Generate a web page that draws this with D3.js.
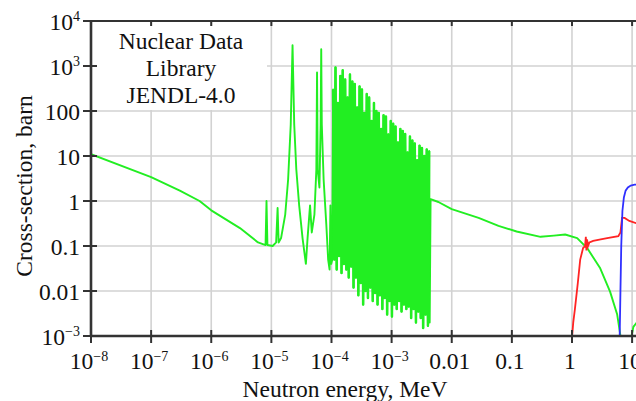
<!DOCTYPE html>
<html>
<head>
<meta charset="utf-8">
<script src="https://cdn.jsdelivr.net/npm/d3@7"></script>
<style>
  body { margin: 0; background: #fff; }
  svg { display: block; }
  text { font-family: "Liberation Serif", "Times New Roman", serif; fill: #111; }
</style>
</head>
<body>
<svg id="chart" width="636" height="401"></svg>
<script>
// tick values and labels (base, superscript)
const xTicks = [1e-8, 1e-7, 1e-6, 1e-5, 1e-4, 1e-3, 0.01, 0.1, 1, 10];
const xTickLabels = [["10","−8"],["10","−7"],["10","−6"],["10","−5"],["10","−4"],["10","−3"],["0.01",""],["0.1",""],["1",""],["10",""]];
const yTicks = [1e4, 1e3, 100, 10, 1, 0.1, 0.01, 1e-3];
const yTickLabels = [["10","4"],["10","3"],["100",""],["10",""],["1",""],["0.1",""],["0.01",""],["10","−3"]];
const boxLines = ["Nuclear Data", "Library", "JENDL-4.0"];

// green: thermal + low resolved resonances (MeV, barn)
const greenLowE = [1e-8, 1e-7, 3e-7, 6.4e-7, 1e-6, 3e-6, 6e-6, 8.0e-6, 8.3e-6, 8.6e-6, 1.05e-5, 1.2e-5, 1.27e-5, 1.32e-5,
  1.45e-5, 1.7e-5, 1.9e-5, 2.1e-5, 2.25e-5, 2.4e-5, 2.6e-5, 2.9e-5, 3.3e-5, 3.75e-5, 4.0e-5, 4.4e-5, 4.7e-5, 5.2e-5,
  5.6e-5, 5.75e-5, 5.9e-5, 6.3e-5, 6.6e-5, 6.75e-5, 6.9e-5, 7.4e-5, 8.2e-5, 8.8e-5, 9.3e-5, 9.6e-5, 9.9e-5, 1.03e-4];
const greenLowXS = [11, 3.4, 1.7, 1.0, 0.62, 0.25, 0.12, 0.105, 1.0, 0.105, 0.1, 0.12, 0.7, 0.12,
  0.15, 0.5, 3, 50, 2900, 50, 5, 0.8, 0.15, 0.04, 0.15, 0.8, 0.2, 0.5,
  5, 720, 5, 2, 50, 2350, 50, 3, 0.3, 0.05, 0.03, 0.8, 0.04, 0.05];

// green: dense resonance forest, alternating peak / valley
const forestE = [1.064e-4, 1.114e-4, 1.166e-4, 1.221e-4, 1.279e-4, 1.339e-4, 1.403e-4, 1.469e-4, 1.538e-4, 1.610e-4,
  1.687e-4, 1.766e-4, 1.849e-4, 1.936e-4, 2.028e-4, 2.123e-4, 2.223e-4, 2.327e-4, 2.437e-4, 2.552e-4,
  2.672e-4, 2.797e-4, 2.929e-4, 3.067e-4, 3.211e-4, 3.362e-4, 3.520e-4, 3.685e-4, 3.859e-4, 4.040e-4,
  4.230e-4, 4.429e-4, 4.638e-4, 4.856e-4, 5.084e-4, 5.323e-4, 5.574e-4, 5.836e-4, 6.110e-4, 6.398e-4,
  6.698e-4, 7.013e-4, 7.343e-4, 7.689e-4, 8.050e-4, 8.429e-4, 8.825e-4, 9.240e-4, 9.675e-4, 1.013e-3,
  1.061e-3, 1.110e-3, 1.163e-3, 1.217e-3, 1.275e-3, 1.335e-3, 1.397e-3, 1.463e-3, 1.532e-3, 1.604e-3,
  1.679e-3, 1.758e-3, 1.841e-3, 1.928e-3, 2.018e-3, 2.113e-3, 2.213e-3, 2.317e-3, 2.426e-3, 2.540e-3,
  2.659e-3, 2.784e-3, 2.915e-3, 3.052e-3, 3.196e-3, 3.346e-3, 3.503e-3, 3.668e-3, 3.840e-3, 4.021e-3, 4.210e-3];
const forestXS = [300, 0.05, 930, 0.03, 150, 0.06, 600, 0.025, 800, 0.04,
  500, 0.03, 200, 0.02, 650, 0.035, 450, 0.012, 400, 0.02,
  120, 0.008, 350, 0.015, 300, 0.005, 90, 0.01, 240, 0.007,
  200, 0.012, 60, 0.006, 150, 0.009, 100, 0.005, 90, 0.008,
  40, 0.004, 80, 0.007, 75, 0.003, 30, 0.006, 60, 0.0027,
  52, 0.005, 45, 0.004, 20, 0.006, 40, 0.0035, 36, 0.005,
  31, 0.004, 12, 0.0045, 27, 0.0025, 22, 0.004, 19, 0.002,
  8, 0.0035, 17, 0.0025, 15, 0.0015, 10, 0.003, 14, 0.0017, 13];

// green: unresolved / fast region
const greenFastE = [4.3e-3, 4.45e-3, 6e-3, 0.01, 0.028, 0.06, 0.12, 0.3, 0.5, 0.77, 1.22, 1.79, 2.95, 4.3, 5.65, 6.34, 6.6, 9.5, 10.5, 12];
const greenFastXS = [0.002, 1.1, 0.95, 0.66, 0.42, 0.28, 0.21, 0.16, 0.17, 0.18, 0.15, 0.09, 0.032, 0.0097, 0.003, 0.0011, 0.0005, 0.0008, 0.0016, 0.002];

// red and blue threshold reactions
const redE = [1.0, 1.05, 1.12, 1.25, 1.37, 1.53, 1.65, 1.7, 1.74, 1.78, 1.85, 1.95, 2.25, 3.0, 3.85, 5.9, 6.4, 6.8, 7.5, 9, 11.7];
const redXS = [0.0009, 0.002, 0.004, 0.015, 0.05, 0.09, 0.1, 0.16, 0.08, 0.14, 0.1, 0.12, 0.13, 0.14, 0.15, 0.165, 0.2, 0.42, 0.42, 0.36, 0.32];
const blueE = [6.2, 6.4, 6.6, 6.9, 7.3, 7.8, 8.5, 9.5, 11, 12.5];
const blueXS = [0.0008, 0.01, 0.1, 0.6, 1.2, 1.7, 2.0, 2.2, 2.3, 2.3];

const svg = d3.select("#chart");
const mLeft = 91, mRight = 636, mTop = 21, mBottom = 336;

const x = d3.scaleLog().domain([1e-8, 10]).range([mLeft, 632.1]);
const y = d3.scaleLog().domain([1e-3, 1e4]).range([mBottom, mTop]);

const zip = (es, vs) => es.map((e, i) => [e, vs[i]]);
const green = zip(greenLowE, greenLowXS).concat(zip(forestE, forestXS), zip(greenFastE, greenFastXS));

svg.append("defs").append("clipPath").attr("id", "plot")
  .append("rect").attr("x", mLeft).attr("y", mTop).attr("width", mRight - mLeft).attr("height", mBottom - mTop);

// grid
svg.append("g").selectAll("line").data(xTicks).join("line")
  .attr("x1", d => x(d)).attr("x2", d => x(d)).attr("y1", mTop).attr("y2", mBottom)
  .attr("stroke", "#d2d2d2").attr("stroke-width", 1.6);
svg.append("g").selectAll("line").data(yTicks).join("line")
  .attr("x1", mLeft).attr("x2", mRight).attr("y1", d => y(d)).attr("y2", d => y(d))
  .attr("stroke", "#d2d2d2").attr("stroke-width", 1.6);

// label box hiding grid
svg.append("rect").attr("x", 94).attr("y", 26).attr("width", 173).attr("height", 84).attr("fill", "#fff");
svg.append("g").selectAll("text").data(boxLines).join("text")
  .attr("x", 181).attr("y", (d, i) => 49 + i * 27)
  .attr("text-anchor", "middle").style("font-size", "23.5px").text(d => d);

// curves
const line = d3.line().x(d => x(d[0])).y(d => y(d[1]));
const curves = svg.append("g").attr("clip-path", "url(#plot)");
curves.append("path").datum(green).attr("d", line)
  .attr("fill", "none").attr("stroke", "#22ee22").attr("stroke-width", 1.9).attr("stroke-linejoin", "round");
// denser stroke over the unresolved-looking forest
curves.append("path").datum(zip(forestE, forestXS)).attr("d", line)
  .attr("fill", "none").attr("stroke", "#22ee22").attr("stroke-width", 2.5).attr("stroke-linejoin", "round");
curves.append("path").datum(zip(redE, redXS)).attr("d", line)
  .attr("fill", "none").attr("stroke", "#ff2424").attr("stroke-width", 1.8);
curves.append("path").datum(zip(blueE, blueXS)).attr("d", line)
  .attr("fill", "none").attr("stroke", "#3030ff").attr("stroke-width", 1.8);

// frame
const frame = svg.append("g").attr("stroke", "#333");
frame.append("line").attr("x1", mLeft).attr("x2", mRight).attr("y1", mTop).attr("y2", mTop).attr("stroke-width", 2);
frame.append("line").attr("x1", mLeft).attr("x2", mLeft).attr("y1", mTop - 1).attr("y2", mBottom + 1).attr("stroke-width", 2.6);
frame.append("line").attr("x1", mLeft - 1).attr("x2", mRight).attr("y1", mBottom).attr("y2", mBottom).attr("stroke-width", 2.6);

// ticks
frame.append("g").selectAll("line").data(yTicks).join("line")
  .attr("x1", mLeft - 8).attr("x2", mLeft + 6).attr("y1", d => y(d)).attr("y2", d => y(d)).attr("stroke-width", 2);
frame.append("g").selectAll("line").data(xTicks).join("line")
  .attr("x1", d => x(d)).attr("x2", d => x(d)).attr("y1", mBottom - 6).attr("y2", mBottom + 7).attr("stroke-width", 2);
frame.append("g").selectAll("line").data(xTicks).join("line")
  .attr("x1", d => x(d)).attr("x2", d => x(d)).attr("y1", mTop).attr("y2", mTop + 5).attr("stroke-width", 2);

// tick labels
function label(sel, lab) {
  sel.append("tspan").text(lab[0]);
  if (lab[1]) sel.append("tspan").attr("dy", -8.5).style("font-size", "14px").text(lab[1]);
}
svg.append("g").selectAll("text").data(xTicks).join("text")
  .attr("x", d => x(d) - 2).attr("y", 369).attr("text-anchor", "middle").style("font-size", "23.5px")
  .each(function(d, i) { label(d3.select(this), xTickLabels[i]); });
svg.append("g").selectAll("text").data(yTicks).join("text")
  .attr("x", 80).attr("y", d => y(d) + 8.5).attr("text-anchor", "end").style("font-size", "23.5px")
  .each(function(d, i) { label(d3.select(this), yTickLabels[i]); });

// axis titles
svg.append("text").attr("x", 345).attr("y", 397).attr("text-anchor", "middle")
  .style("font-size", "23.5px").text("Neutron energy, MeV");
svg.append("text").attr("transform", "translate(32,186) rotate(-90)").attr("text-anchor", "middle")
  .style("font-size", "23.5px").text("Cross-section, barn");
</script>
</body>
</html>
